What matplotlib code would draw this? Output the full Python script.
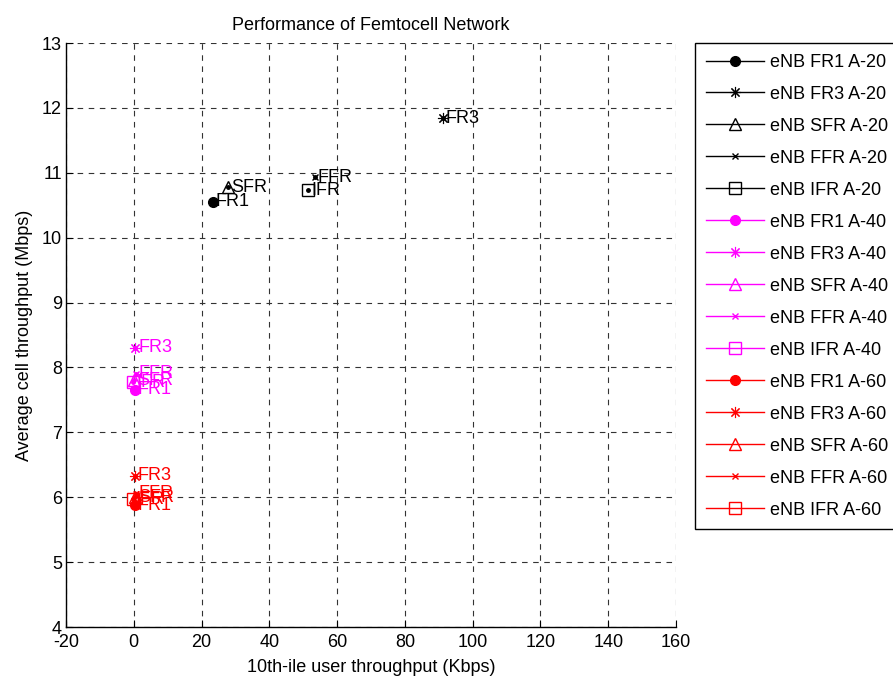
import matplotlib
matplotlib.use('Agg')
import matplotlib.pyplot as plt

plt.rcParams['font.family'] = ['Liberation Sans', 'DejaVu Sans']
plt.rcParams['axes.unicode_minus'] = False

# reuse schemes, one point per scheme and load level
schemes = ['FR1', 'FR3', 'SFR', 'FFR', 'IFR']
markers = ['o', (8, 2, 0), '^', 'x', 's']
marker_sizes = [7, 8, 9, 5, 9]
edge_widths = [1.0, 0.8, 1.0, 1.0, 1.0]

# 10th-ile user throughput (Kbps)
tput10_a20 = [23.4, 91.3, 27.8, 53.5, 51.5]
tput10_a40 = [0.3, 0.5, 0.2, 0.6, -0.2]
tput10_a60 = [0.3, 0.4, 0.4, 0.7, -0.3]

# average cell throughput (Mbps)
avg_a20 = [10.55, 11.84, 10.78, 10.93, 10.73]
avg_a40 = [7.66, 8.30, 7.80, 7.90, 7.77]
avg_a60 = [5.88, 6.33, 6.00, 6.05, 5.97]

groups = [
    ('A-20', 'k', tput10_a20, avg_a20),
    ('A-40', '#ff00ff', tput10_a40, avg_a40),
    ('A-60', 'r', tput10_a60, avg_a60),
]

fig = plt.figure(figsize=(8.93, 6.93), dpi=100)
ax = fig.add_axes([66 / 893, 66 / 693, 610 / 893, 584 / 693])

for load, color, xs, ys in groups:
    for i, name in enumerate(schemes):
        mfc = color if name == 'FR1' else 'none'
        ax.plot([xs[i]], [ys[i]], '-', color=color, marker=markers[i],
                markersize=marker_sizes[i], markerfacecolor=mfc,
                markeredgecolor=color, markeredgewidth=edge_widths[i],
                linewidth=1.0, label='eNB %s %s' % (name, load))
        ax.plot([xs[i]], [ys[i]], '.', color=color, markersize=5)
        ax.annotate(name, (xs[i], ys[i]), xytext=(2, 0),
                    textcoords='offset points', color=color, fontsize=13,
                    ha='left', va='center')

ax.set_xlim(-20, 160)
ax.set_ylim(4, 13)
ax.set_xticks(range(-20, 161, 20))
ax.set_yticks(range(4, 14))
ax.tick_params(labelsize=13, direction='in', length=5, width=0.8,
               top=False, right=False)
ax.tick_params(axis='x', pad=5)
ax.tick_params(axis='y', pad=3)
ax.spines['top'].set_visible(False)
ax.spines['right'].set_visible(False)
for s in ('left', 'bottom'):
    ax.spines[s].set_linewidth(1.0)
ax.grid(True, linestyle=(0, (5, 5)), color='#333333', linewidth=0.8)
ax.set_axisbelow(True)

ax.set_xlabel('10th-ile user throughput (Kbps)', fontsize=13, labelpad=6)
ax.set_ylabel('Average cell throughput (Mbps)', fontsize=13, labelpad=6)
ax.set_title('Performance of Femtocell Network', fontsize=13, pad=9)

leg = fig.legend(loc='upper left', bbox_to_anchor=(695 / 893, 1 - 43 / 693),
                 fontsize=13, numpoints=1, handlelength=3.2,
                 handletextpad=0.35, labelspacing=0.83, borderpad=0.6,
                 borderaxespad=0, fancybox=False, framealpha=1,
                 edgecolor='k')
leg.get_frame().set_linewidth(1.0)

fig.savefig('out.png', dpi=100)
